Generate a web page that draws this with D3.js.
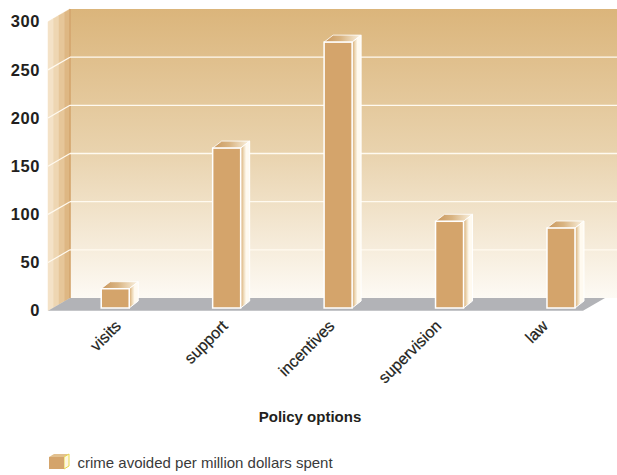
<!DOCTYPE html>
<html>
<head>
<meta charset="utf-8">
<script src="https://cdn.jsdelivr.net/npm/d3@7"></script>
<style>
  body { margin: 0; background: #fff; }
  svg { display: block; }
</style>
</head>
<body>
<script>
var categories = ["visits", "support", "incentives", "supervision", "law"];
var crimeAvoided = [20, 166, 276, 90, 83];
var yTicks = [0, 50, 100, 150, 200, 250, 300];
var seriesName = "crime avoided per million dollars spent";
var axisTitle = "Policy options";

var width = 617, height = 475;
var depthX = 22, depthY = -12.7;   // wall / floor depth
var barDX = 9, barDY = -7;         // bar depth

var svg = d3.select("body").append("svg")
  .attr("width", width)
  .attr("height", height);

var defs = svg.append("defs");

var wallGrad = defs.append("linearGradient")
  .attr("id", "wall-grad")
  .attr("x1", 0).attr("y1", 0).attr("x2", 0).attr("y2", 1);
wallGrad.append("stop").attr("offset", "0%").attr("stop-color", "#dbb57b");
wallGrad.append("stop").attr("offset", "50%").attr("stop-color", "#e9d3ae");
wallGrad.append("stop").attr("offset", "100%").attr("stop-color", "#fdfaf4");

var topGrad = defs.append("linearGradient")
  .attr("id", "top-grad")
  .attr("x1", 0).attr("y1", 0).attr("x2", 1).attr("y2", 0);
topGrad.append("stop").attr("offset", "0%").attr("stop-color", "#c9975d");
topGrad.append("stop").attr("offset", "45%").attr("stop-color", "#d9b482");
topGrad.append("stop").attr("offset", "100%").attr("stop-color", "#fbf3e2");

var sideGrad = defs.append("linearGradient")
  .attr("id", "side-grad")
  .attr("x1", 0).attr("y1", 0).attr("x2", 1).attr("y2", 0);
sideGrad.append("stop").attr("offset", "0%").attr("stop-color", "#d6a86e");
sideGrad.append("stop").attr("offset", "35%").attr("stop-color", "#efdcbc");
sideGrad.append("stop").attr("offset", "60%").attr("stop-color", "#fffaf0");
sideGrad.append("stop").attr("offset", "100%").attr("stop-color", "#fffaf0");

// front scale (left edge of the side wall), back scale is shifted by depth
var y = d3.scaleLinear().domain([0, 300]).range([310.7, 21.7]);
var yBack = function(v) { return y(v) + depthY; };
var barBase = 308;
var yBar = function(v) { return y(v) - (y(0) - barBase); };

var x = d3.scaleBand().domain(categories).range([59.5, 616.7]);
var xLabel = d3.scalePoint().domain(categories).range([122, 549]);

var left = 48, back = left + depthX, right = 617;

// back wall
svg.append("rect")
  .attr("x", back)
  .attr("y", yBack(300))
  .attr("width", right - back)
  .attr("height", yBack(0) - yBack(300))
  .style("fill", "url(#wall-grad)");

// left wall in vertical stripes
var stripeColors = ["#f4e2c7", "#eed6b2", "#e6c699", "#deb783"];
var sw = depthX / stripeColors.length;
stripeColors.forEach(function(c, i) {
  var xa = left + i * sw, xb = left + (i + 1) * sw;
  var fa = i / stripeColors.length, fb = (i + 1) / stripeColors.length;
  var pts = [
    [xa, y(300) + depthY * fa], [xb, y(300) + depthY * fb],
    [xb, y(0) + depthY * fb], [xa, y(0) + depthY * fa]
  ];
  svg.append("polygon")
    .attr("points", pts.map(function(p) { return p.join(","); }).join(" "))
    .style("fill", c)
    .style("stroke", c)
    .style("stroke-width", 0.5);
});
svg.append("line")
  .attr("x1", back).attr("x2", back)
  .attr("y1", yBack(300)).attr("y2", yBack(0))
  .style("stroke", "#d3a56c")
  .style("stroke-width", 1.5);

// grid lines
var grid = yTicks.filter(function(v) { return v > 0 && v < 300; });
svg.selectAll(".grid-back").data(grid).enter().append("line")
  .attr("class", "grid-back")
  .attr("x1", back).attr("x2", right)
  .attr("y1", function(d) { return yBack(d); })
  .attr("y2", function(d) { return yBack(d); })
  .style("stroke", "#fffaf0")
  .style("stroke-width", 1.4);
svg.selectAll(".grid-side").data(grid).enter().append("line")
  .attr("class", "grid-side")
  .attr("x1", left).attr("x2", back)
  .attr("y1", function(d) { return y(d); })
  .attr("y2", function(d) { return yBack(d); })
  .style("stroke", "#fffaf0")
  .style("stroke-width", 1.2);

// floor
var floorRight = 583;
svg.append("polygon")
  .attr("points", [
    [left, y(0)], [back, yBack(0)], [floorRight + depthX, yBack(0)], [floorRight, y(0)]
  ].map(function(p) { return p.join(","); }).join(" "))
  .style("fill", "#b2b3b7");

// bars
var bw = 28;
var bars = svg.selectAll(".bar").data(categories).enter().append("g")
  .attr("class", "bar");

bars.append("polygon")
  .attr("points", function(d, i) {
    var x0 = x(d) + x.bandwidth() / 2 - bw / 2, x1 = x0 + bw, t = yBar(crimeAvoided[i]);
    return [[x0, t], [x0 + barDX, t + barDY], [x1 + barDX, t + barDY], [x1, t]]
      .map(function(p) { return p.join(","); }).join(" ");
  })
  .style("fill", "url(#top-grad)")
  .style("stroke", "#fff")
  .style("stroke-width", 0.8);

bars.append("polygon")
  .attr("points", function(d, i) {
    var x1 = x(d) + x.bandwidth() / 2 + bw / 2, t = yBar(crimeAvoided[i]);
    return [[x1, t], [x1 + barDX, t + barDY], [x1 + barDX, barBase + barDY], [x1, barBase]]
      .map(function(p) { return p.join(","); }).join(" ");
  })
  .style("fill", "url(#side-grad)")
  .style("stroke", "#fff")
  .style("stroke-width", 1);

bars.append("rect")
  .attr("x", function(d) { return x(d) + x.bandwidth() / 2 - bw / 2; })
  .attr("y", function(d, i) { return yBar(crimeAvoided[i]); })
  .attr("width", bw)
  .attr("height", function(d, i) { return barBase - yBar(crimeAvoided[i]); })
  .style("fill", "#d4a46b")
  .style("stroke", "#fff")
  .style("stroke-width", 1.5);

// y axis labels
var yAxis = svg.append("g")
  .attr("transform", "translate(" + 40 + ",0)")
  .call(d3.axisLeft(y).tickValues(yTicks).tickSize(0).tickPadding(0));
yAxis.select(".domain").remove();
yAxis.selectAll("text")
  .style("font-family", "Liberation Sans, Arial, sans-serif")
  .style("font-size", "16.5px")
  .style("font-weight", "bold")
  .style("letter-spacing", "0.6px")
  .style("fill", "#231f20");

// category labels
svg.selectAll(".xlabel").data(categories).enter().append("text")
  .attr("class", "xlabel")
  .attr("transform", function(d) { return "translate(" + xLabel(d) + ",327) rotate(-45)"; })
  .attr("text-anchor", "end")
  .style("font-family", "Liberation Sans, Arial, sans-serif")
  .style("font-size", "16px")
  .style("fill", "#231f20")
  .style("stroke", "#231f20")
  .style("stroke-width", 0.25)
  .text(function(d) { return d; });

svg.append("text")
  .attr("x", 310)
  .attr("y", 422)
  .attr("text-anchor", "middle")
  .style("font-family", "Liberation Sans, Arial, sans-serif")
  .style("font-size", "15px")
  .style("font-weight", "bold")
  .style("fill", "#231f20")
  .text(axisTitle);

// legend
var lg = svg.append("g").attr("transform", "translate(49,455)");
lg.append("polygon")
  .attr("points", "0,2 5,-1 20,-1 15,2")
  .style("fill", "#e2c08e");
lg.append("polygon")
  .attr("points", "15,2 20,-1 20,11 15,14")
  .style("fill", "#fdf6e0")
  .style("stroke", "#e8d84a")
  .style("stroke-width", 1);
lg.append("rect")
  .attr("x", 0).attr("y", 2)
  .attr("width", 15).attr("height", 12)
  .style("fill", "#d4a46b");
lg.append("text")
  .attr("x", 28.5)
  .attr("y", 12.5)
  .style("font-family", "Liberation Sans, Arial, sans-serif")
  .style("font-size", "15px")
  .style("fill", "#3a3a3a")
  .text(seriesName);
</script>
</body>
</html>
